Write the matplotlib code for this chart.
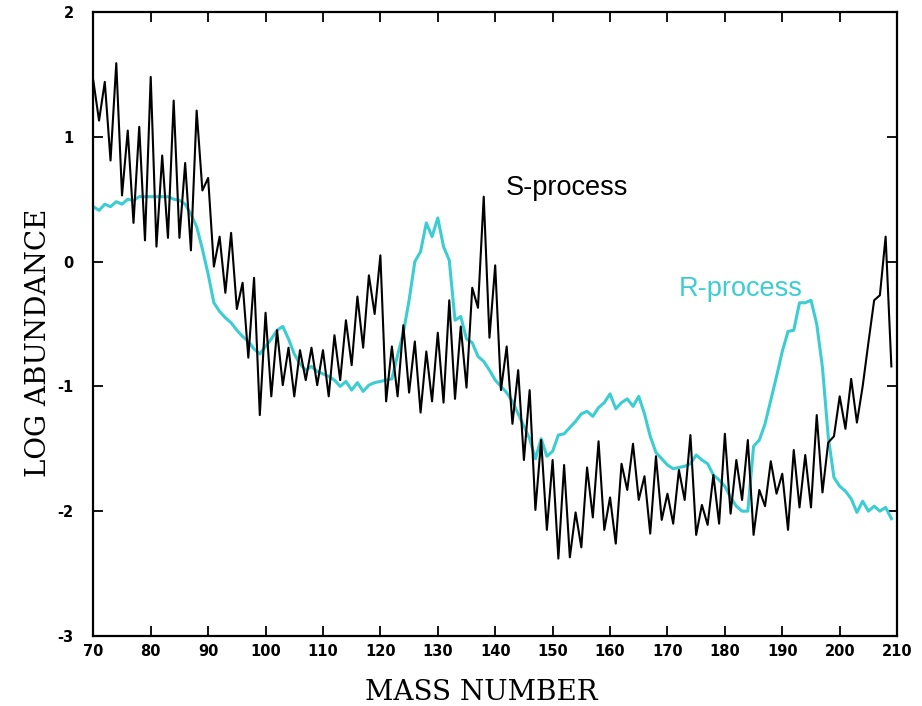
import matplotlib
matplotlib.use("Agg")
import matplotlib.pyplot as plt
import numpy as np

mass_start = 70
s_process = [
    1.45, 1.13, 1.44, 0.81, 1.59, 0.53, 1.05, 0.31, 1.08, 0.17,   # 70-79
    1.48, 0.12, 0.85, 0.19, 1.29, 0.19, 0.79, 0.09, 1.21, 0.57,   # 80-89
    0.67, -0.04, 0.20, -0.25, 0.23, -0.38, -0.17, -0.77, -0.13, -1.23,  # 90-99
    -0.41, -1.08, -0.55, -0.99, -0.69, -1.08, -0.71, -0.95, -0.69, -0.99,  # 100-109
    -0.71, -1.08, -0.59, -0.95, -0.47, -0.83, -0.28, -0.69, -0.11, -0.42,  # 110-119
    0.05, -1.12, -0.68, -1.08, -0.51, -1.05, -0.64, -1.21, -0.72, -1.12,  # 120-129
    -0.57, -1.13, -0.31, -1.10, -0.52, -1.01, -0.21, -0.37, 0.52, -0.61,  # 130-139
    -0.03, -1.03, -0.68, -1.30, -0.87, -1.59, -1.03, -1.99, -1.43, -2.15,  # 140-149
    -1.59, -2.38, -1.63, -2.37, -2.01, -2.29, -1.65, -2.05, -1.44, -2.15,  # 150-159
    -1.89, -2.26, -1.62, -1.83, -1.46, -1.91, -1.72, -2.18, -1.56, -2.07,  # 160-169
    -1.86, -2.10, -1.67, -1.91, -1.39, -2.19, -1.95, -2.11, -1.71, -2.10,  # 170-179
    -1.38, -2.02, -1.59, -1.91, -1.43, -2.19, -1.83, -1.96, -1.60, -1.86,  # 180-189
    -1.70, -2.15, -1.51, -1.97, -1.55, -1.97, -1.23, -1.85, -1.45, -1.40,  # 190-199
    -1.08, -1.34, -0.94, -1.29, -1.00, -0.65, -0.31, -0.27, 0.20, -0.84,  # 200-209
]
r_process = [
    0.44, 0.41, 0.46, 0.44, 0.48, 0.46, 0.50, 0.49, 0.52, 0.52,   # 70-79
    0.52, 0.52, 0.52, 0.52, 0.50, 0.49, 0.46, 0.38, 0.28, 0.10,   # 80-89
    -0.10, -0.33, -0.40, -0.45, -0.49, -0.55, -0.60, -0.64, -0.70, -0.74,  # 90-99
    -0.68, -0.62, -0.55, -0.52, -0.62, -0.74, -0.82, -0.87, -0.84, -0.88,  # 100-109
    -0.90, -0.92, -0.95, -1.00, -0.96, -1.03, -0.97, -1.04, -0.99, -0.97,  # 110-119
    -0.96, -0.95, -0.94, -0.75, -0.57, -0.31, 0.00, 0.08, 0.31, 0.20,   # 120-129
    0.35, 0.12, 0.01, -0.47, -0.44, -0.62, -0.65, -0.76, -0.80, -0.87,  # 130-139
    -0.95, -1.00, -1.05, -1.12, -1.22, -1.32, -1.42, -1.58, -1.42, -1.56,  # 140-149
    -1.52, -1.39, -1.38, -1.33, -1.28, -1.22, -1.20, -1.24, -1.17, -1.13,  # 150-159
    -1.06, -1.18, -1.13, -1.10, -1.16, -1.08, -1.22, -1.40, -1.53, -1.58,  # 160-169
    -1.63, -1.66, -1.65, -1.64, -1.62, -1.55, -1.59, -1.62, -1.71, -1.75,  # 170-179
    -1.80, -1.89, -1.96, -2.00, -2.00, -1.48, -1.43, -1.30, -1.11, -0.92,  # 180-189
    -0.72, -0.56, -0.55, -0.33, -0.33, -0.31, -0.50, -0.85, -1.40, -1.73,  # 190-199
    -1.80, -1.84, -1.90, -2.01, -1.92, -2.00, -1.96, -2.00, -1.97, -2.06,  # 200-209
]
x_ticks = [70, 80, 90, 100, 110, 120, 130, 140, 150, 160, 170, 180, 190, 200, 210]
y_ticks = [-3, -2, -1, 0, 1, 2]

mass = np.arange(mass_start, mass_start + len(s_process))
mass_r = np.arange(mass_start, mass_start + len(r_process))

fig = plt.figure(figsize=(9.22, 7.06), dpi=100)
ax = fig.add_axes([0.1012, 0.0992, 0.8718, 0.8838])

cyan = '#3ccdd3'
ax.plot(mass_r, r_process, color=cyan, lw=2.2, zorder=2)
ax.plot(mass, s_process, color='black', lw=1.5, zorder=3)

ax.set_xlim(70, 210)
ax.set_ylim(-3, 2)
ax.set_xticks(x_ticks)
ax.set_yticks(y_ticks)
ax.set_xticklabels([str(t) for t in x_ticks])
ax.set_yticklabels([str(t) for t in y_ticks])
ax.tick_params(direction='in', length=7, width=1.3, top=True, right=True,
               labelsize=10.5)
ax.tick_params(axis='y', pad=14)
ax.tick_params(axis='x', pad=6)
for lab in ax.get_xticklabels() + ax.get_yticklabels():
    lab.set_fontweight('bold')
    lab.set_family('DejaVu Sans')
for sp in ax.spines.values():
    sp.set_linewidth(1.6)

ax.set_xlabel('MASS NUMBER', family='DejaVu Serif', fontsize=20, labelpad=14)
ax.set_ylabel('LOG ABUNDANCE', family='DejaVu Serif', fontsize=20, labelpad=4)
ax.xaxis.label.set_x(0.483)
ax.yaxis.label.set_y(0.47)

ax.text(152.5, 0.59, 'S-process', family='Liberation Sans', fontsize=19.5,
        color='black', ha='center', va='center')
ax.text(182.7, -0.22, 'R-process', family='Liberation Sans', fontsize=19.5,
        color=cyan, ha='center', va='center')

fig.savefig('out.png', dpi=100)
